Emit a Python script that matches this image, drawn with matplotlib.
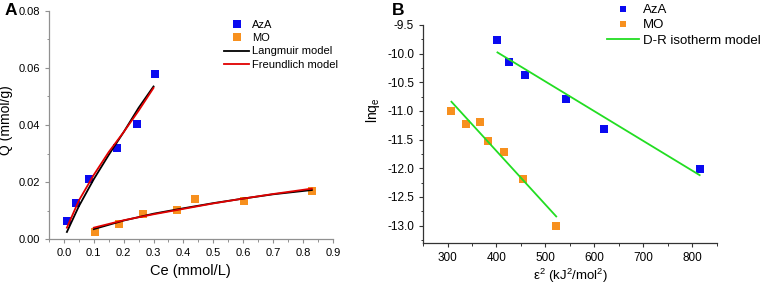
import matplotlib.pyplot as plt
from matplotlib.ticker import MultipleLocator

plt.rcParams['font.family'] = ['Liberation Sans', 'DejaVu Sans']

# ---------- Panel A: adsorption isotherms ----------
aza_ce = [0.011, 0.040, 0.084, 0.179, 0.244, 0.304]
aza_q = [0.0064, 0.0126, 0.0210, 0.0321, 0.0403, 0.0579]
mo_ce = [0.103, 0.184, 0.266, 0.378, 0.439, 0.602, 0.831]
mo_q = [0.0025, 0.0054, 0.0088, 0.0102, 0.0141, 0.0134, 0.0169]

# model curves
aza_fit_x = [0.01, 0.05, 0.10, 0.15, 0.20, 0.25, 0.30]
aza_lang_y = [0.0025, 0.0115, 0.0210, 0.0295, 0.0375, 0.0460, 0.0535]
aza_freu_y = [0.0040, 0.0135, 0.0225, 0.0305, 0.0375, 0.0450, 0.0530]
mo_fit_x = [0.10, 0.20, 0.30, 0.40, 0.50, 0.60, 0.70, 0.83]
mo_lang_y = [0.0035, 0.0065, 0.0089, 0.0108, 0.0126, 0.0142, 0.0157, 0.0172]
mo_freu_y = [0.0040, 0.0066, 0.0087, 0.0106, 0.0125, 0.0142, 0.0158, 0.0177]

# ---------- Panel B: D-R isotherm ----------
aza_eps = [402, 426, 458, 542, 619, 815]
aza_lnq = [-9.77, -10.14, -10.37, -10.80, -11.32, -12.01]
mo_eps = [308, 337, 367, 382, 416, 455, 521]
mo_lnq = [-11.01, -11.22, -11.19, -11.53, -11.71, -12.18, -13.00]
aza_dr_x = [402, 815]
aza_dr_y = [-9.98, -12.12]
mo_dr_x = [308, 522]
mo_dr_y = [-10.84, -12.84]

BLUE = "#0a0af0"
ORANGE = "#f7901e"
GREEN = "#22dd22"

fig = plt.figure(figsize=(7.65, 2.86), dpi=100)
axA = fig.add_axes([0.064, 0.164, 0.371, 0.798])
axB = fig.add_axes([0.553, 0.151, 0.384, 0.762])

msq = dict(marker="s", linestyle="none", markersize=5.8, markeredgewidth=0)

axA.plot(aza_ce, aza_q, color=BLUE, label="AzA", **msq)
axA.plot(mo_ce, mo_q, color=ORANGE, label="MO", **msq)
axA.plot(aza_fit_x, aza_lang_y, color="black", lw=1.3, label="Langmuir model")
axA.plot(aza_fit_x, aza_freu_y, color="#e00000", lw=1.3, label="Freundlich model")
axA.plot(mo_fit_x, mo_lang_y, color="black", lw=1.3)
axA.plot(mo_fit_x, mo_freu_y, color="#e00000", lw=1.3)

axA.set_xlim(-0.05, 0.9)
axA.set_ylim(0, 0.08)
axA.xaxis.set_major_locator(MultipleLocator(0.1))
axA.xaxis.set_minor_locator(MultipleLocator(0.05))
axA.yaxis.set_major_locator(MultipleLocator(0.02))
axA.yaxis.set_minor_locator(MultipleLocator(0.01))
axA.xaxis.set_major_formatter(lambda v, p: f"{v:.1f}")
axA.yaxis.set_major_formatter(lambda v, p: f"{v:.2f}")
axA.set_xlabel("Ce (mmol/L)", fontsize=10.5, labelpad=4)
axA.set_ylabel("Q (mmol/g)", fontsize=10)
axA.yaxis.set_label_coords(-0.127, 0.52)
axA.legend(loc="upper left", bbox_to_anchor=(0.595, 0.99), frameon=False,
           fontsize=8, handlelength=2.2, handletextpad=0.3,
           labelspacing=0.3, borderaxespad=0.2)

axB.plot(aza_eps, aza_lnq, color=BLUE, label="AzA", **msq)
axB.plot(mo_eps, mo_lnq, color=ORANGE, label="MO", **msq)
axB.plot(aza_dr_x, aza_dr_y, color=GREEN, lw=1.3, label="D-R isotherm model")
axB.plot(mo_dr_x, mo_dr_y, color=GREEN, lw=1.3)

axB.set_xlim(250, 850)
axB.set_ylim(-13.3, -9.5)
axB.xaxis.set_major_locator(MultipleLocator(100))
axB.xaxis.set_minor_locator(MultipleLocator(50))
axB.yaxis.set_major_locator(MultipleLocator(0.5))
axB.yaxis.set_minor_locator(MultipleLocator(0.25))
axB.yaxis.set_major_formatter(lambda v, p: f"{v:.1f}")
axB.set_xlabel(r"$\mathregular{\epsilon^2}$ (kJ$\mathregular{^2}$/mol$\mathregular{^2}$)",
               fontsize=9.5, labelpad=2)
axB.set_ylabel(r"lnq$\mathregular{_e}$", fontsize=10)
axB.yaxis.set_label_coords(-0.139, 0.61)
axB.legend(loc="upper left", bbox_to_anchor=(0.608, 1.12), frameon=False,
           fontsize=9.5, handlelength=2.4, handletextpad=0.3,
           labelspacing=0.22, borderaxespad=0.0, markerscale=0.8)

for ax, sc, fs in ((axA, "#909090", 8), (axB, "#333333", 8.5)):
    for side in ("top", "right"):
        ax.spines[side].set_visible(False)
    for side in ("left", "bottom"):
        ax.spines[side].set_color(sc)
        ax.spines[side].set_linewidth(0.9)
    ax.tick_params(which="major", length=3, width=0.8, labelsize=fs, color=sc)
    ax.tick_params(which="minor", length=1.8, width=0.7, color=sc)

fig.text(0.006, 0.948, "A", fontsize=12.5, fontweight="bold")
fig.text(0.512, 0.948, "B", fontsize=12.5, fontweight="bold")

fig.savefig("out.png", dpi=100)
